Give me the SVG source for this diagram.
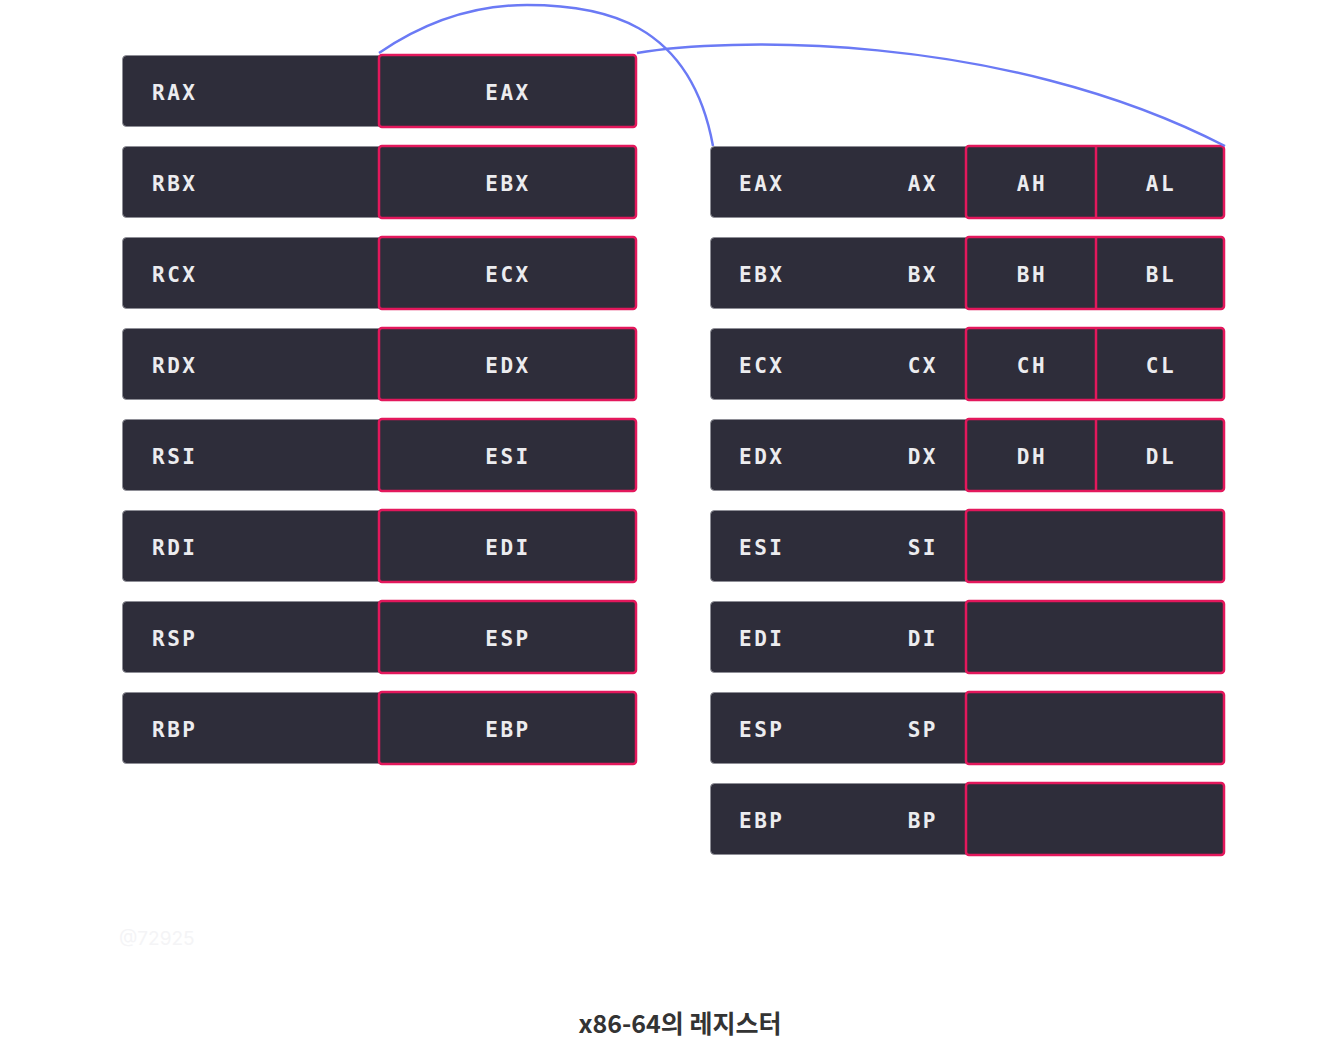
<svg xmlns="http://www.w3.org/2000/svg" width="1328" height="1064" viewBox="0 0 1328 1064">
<style>
.box{fill:#2e2d3a;stroke:#8e8e96;stroke-width:1}
.hl{fill:#2e2d3a;stroke:#e3185c;stroke-width:2.5}
.div{stroke:#e3185c;stroke-width:2.5}
.t{font-family:"DejaVu Sans Mono","Liberation Mono",monospace;font-weight:bold;font-size:21px;letter-spacing:2.5px;fill:#ececef}
.m{text-anchor:middle}
.e{text-anchor:end}
.con{fill:none;stroke:#6b7af5;stroke-width:2.5}
.cap{font-family:"Noto Sans CJK KR","Noto Sans",sans-serif;font-weight:bold;font-size:25px;fill:#333;text-anchor:middle}
.wm{font-family:"Inter","Noto Sans",sans-serif;font-size:19px;fill:#f4f4f6}
</style>
<rect width="1328" height="1064" fill="#ffffff"/>
<g id="left">
<g id="RAX"><rect class="box" x="122.5" y="55.5" width="514" height="71" rx="4"/><rect class="hl" x="379" y="55" width="257" height="72" rx="3"/><text class="t" x="152" y="100">RAX</text><text class="t m" x="508" y="100">EAX</text></g>
<g id="RBX"><rect class="box" x="122.5" y="146.5" width="514" height="71" rx="4"/><rect class="hl" x="379" y="146" width="257" height="72" rx="3"/><text class="t" x="152" y="191">RBX</text><text class="t m" x="508" y="191">EBX</text></g>
<g id="RCX"><rect class="box" x="122.5" y="237.5" width="514" height="71" rx="4"/><rect class="hl" x="379" y="237" width="257" height="72" rx="3"/><text class="t" x="152" y="282">RCX</text><text class="t m" x="508" y="282">ECX</text></g>
<g id="RDX"><rect class="box" x="122.5" y="328.5" width="514" height="71" rx="4"/><rect class="hl" x="379" y="328" width="257" height="72" rx="3"/><text class="t" x="152" y="373">RDX</text><text class="t m" x="508" y="373">EDX</text></g>
<g id="RSI"><rect class="box" x="122.5" y="419.5" width="514" height="71" rx="4"/><rect class="hl" x="379" y="419" width="257" height="72" rx="3"/><text class="t" x="152" y="464">RSI</text><text class="t m" x="508" y="464">ESI</text></g>
<g id="RDI"><rect class="box" x="122.5" y="510.5" width="514" height="71" rx="4"/><rect class="hl" x="379" y="510" width="257" height="72" rx="3"/><text class="t" x="152" y="555">RDI</text><text class="t m" x="508" y="555">EDI</text></g>
<g id="RSP"><rect class="box" x="122.5" y="601.5" width="514" height="71" rx="4"/><rect class="hl" x="379" y="601" width="257" height="72" rx="3"/><text class="t" x="152" y="646">RSP</text><text class="t m" x="508" y="646">ESP</text></g>
<g id="RBP"><rect class="box" x="122.5" y="692.5" width="514" height="71" rx="4"/><rect class="hl" x="379" y="692" width="257" height="72" rx="3"/><text class="t" x="152" y="737">RBP</text><text class="t m" x="508" y="737">EBP</text></g>
</g>
<g id="right">
<g id="EAX2"><rect class="box" x="710.5" y="146.5" width="514" height="71" rx="4"/><rect class="hl" x="966" y="146" width="258" height="72" rx="3"/><line class="div" x1="1096" y1="146" x2="1096" y2="218"/><text class="t" x="739" y="191">EAX</text><text class="t e" x="938" y="191">AX</text><text class="t m" x="1032" y="191">AH</text><text class="t m" x="1161" y="191">AL</text></g>
<g id="EBX2"><rect class="box" x="710.5" y="237.5" width="514" height="71" rx="4"/><rect class="hl" x="966" y="237" width="258" height="72" rx="3"/><line class="div" x1="1096" y1="237" x2="1096" y2="309"/><text class="t" x="739" y="282">EBX</text><text class="t e" x="938" y="282">BX</text><text class="t m" x="1032" y="282">BH</text><text class="t m" x="1161" y="282">BL</text></g>
<g id="ECX2"><rect class="box" x="710.5" y="328.5" width="514" height="71" rx="4"/><rect class="hl" x="966" y="328" width="258" height="72" rx="3"/><line class="div" x1="1096" y1="328" x2="1096" y2="400"/><text class="t" x="739" y="373">ECX</text><text class="t e" x="938" y="373">CX</text><text class="t m" x="1032" y="373">CH</text><text class="t m" x="1161" y="373">CL</text></g>
<g id="EDX2"><rect class="box" x="710.5" y="419.5" width="514" height="71" rx="4"/><rect class="hl" x="966" y="419" width="258" height="72" rx="3"/><line class="div" x1="1096" y1="419" x2="1096" y2="491"/><text class="t" x="739" y="464">EDX</text><text class="t e" x="938" y="464">DX</text><text class="t m" x="1032" y="464">DH</text><text class="t m" x="1161" y="464">DL</text></g>
<g id="ESI2"><rect class="box" x="710.5" y="510.5" width="514" height="71" rx="4"/><rect class="hl" x="966" y="510" width="258" height="72" rx="3"/><text class="t" x="739" y="555">ESI</text><text class="t e" x="938" y="555">SI</text></g>
<g id="EDI2"><rect class="box" x="710.5" y="601.5" width="514" height="71" rx="4"/><rect class="hl" x="966" y="601" width="258" height="72" rx="3"/><text class="t" x="739" y="646">EDI</text><text class="t e" x="938" y="646">DI</text></g>
<g id="ESP2"><rect class="box" x="710.5" y="692.5" width="514" height="71" rx="4"/><rect class="hl" x="966" y="692" width="258" height="72" rx="3"/><text class="t" x="739" y="737">ESP</text><text class="t e" x="938" y="737">SP</text></g>
<g id="EBP2"><rect class="box" x="710.5" y="783.5" width="514" height="71" rx="4"/><rect class="hl" x="966" y="783" width="258" height="72" rx="3"/><text class="t" x="739" y="828">EBP</text><text class="t e" x="938" y="828">BP</text></g>
</g>
<g id="connectors">
<path class="con" d="M379,53 C420,25 470,5 527,5 C600,5 690,20 713,146"/>
<path class="con" d="M637,53 C720,38 1000,30 1225,146"/>
</g>
<text class="wm" x="119" y="945">@72925</text>
<text class="cap" x="680" y="1033">x86-64의 레지스터</text>
</svg>
